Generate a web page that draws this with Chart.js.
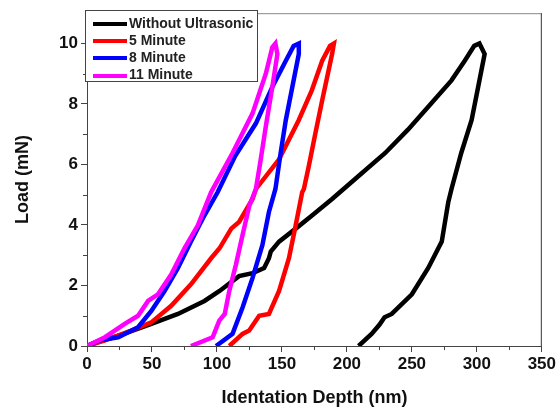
<!DOCTYPE html>
<html>
<head>
<meta charset="utf-8">
<script src="https://cdn.jsdelivr.net/npm/chart.js@4.4.1/dist/chart.umd.min.js"></script>
<style>
  html, body { margin: 0; padding: 0; background: #fff; }
  #wrap { position: relative; width: 558px; height: 410px; }
  #legend {
    position: absolute; left: 85px; top: 10px; width: 173px; height: 72px;
    border: 1px solid #444; background: #fff; box-sizing: border-box;
    font: bold 14px "Liberation Sans", Arial, sans-serif; color: #222;
  }
  .item { position: absolute; left: 7px; height: 17px; line-height: 17px; white-space: nowrap; }
  .item span.sw { display: inline-block; width: 34px; height: 4px; vertical-align: middle; margin-right: 2px; }
</style>
</head>
<body>
<div id="wrap">
  <canvas id="chart" width="558" height="410"></canvas>
  <div id="legend"></div>
</div>
<script>
// data (depth nm, load mN), loading then unloading
const seriesNames = ["Without Ultrasonic", "5 Minute", "8 Minute", "11 Minute"];
const seriesColors = ["#000000", "#ff0000", "#0000ff", "#ff00ff"];

const blackX = [0, 10, 25, 40, 49.5, 70, 90.4, 102, 117, 127.4, 136.3, 140, 141.4, 147.8, 160.6, 173.4, 188.6, 209, 229.5, 247, 265, 280.5, 290.7, 298, 302, 306, 301, 296, 288, 280.5, 278, 273, 262.6, 250, 234.5, 229, 225, 219, 209];
const blackY = [0, 0.15, 0.35, 0.58, 0.73, 1.06, 1.49, 1.82, 2.31, 2.41, 2.58, 2.9, 3.12, 3.45, 3.88, 4.32, 4.86, 5.62, 6.38, 7.15, 8.02, 8.78, 9.43, 9.92, 10.0, 9.65, 8.56, 7.47, 6.38, 5.19, 4.75, 3.45, 2.58, 1.71, 1.06, 0.95, 0.7, 0.4, 0];

const redX = [0, 13.8, 34, 49.5, 64.8, 80, 95.5, 102, 111, 117, 127.4, 130, 147.8, 163, 173, 181, 187, 190, 188.6, 181, 175.8, 170.7, 166.9, 165.6, 160.6, 155.4, 147.8, 140, 132.5, 124.8, 119.7, 109.5];
const redY = [0, 0.19, 0.51, 0.78, 1.33, 2.04, 2.9, 3.23, 3.88, 4.1, 4.86, 5.19, 6.17, 7.47, 8.45, 9.43, 9.92, 10.0, 9.65, 8.12, 7.04, 5.95, 5.19, 5.08, 3.99, 2.9, 1.82, 1.06, 1.0, 0.51, 0.4, 0];

const blueX = [0, 10, 24, 39.3, 49.5, 59.7, 70, 80, 90.4, 100.5, 114, 130, 142.6, 153, 159, 163, 163, 158, 153, 149, 145, 140, 135, 127.4, 119.7, 112, 99.3];
const blueY = [0, 0.19, 0.29, 0.62, 1.16, 1.82, 2.58, 3.45, 4.32, 5.08, 6.28, 7.36, 8.56, 9.43, 9.92, 10.0, 9.65, 8.56, 7.47, 6.38, 5.19, 4.43, 3.34, 2.25, 1.27, 0.4, 0];

const magentaX = [0, 13.8, 29, 39.3, 47, 54.6, 64.8, 75, 85.3, 95.5, 112, 127.4, 137.6, 142.6, 145, 146.5, 142.6, 137.6, 133.7, 130, 125, 119.7, 114.6, 109.5, 106, 101.8, 96.7, 80];
const magentaY = [0, 0.29, 0.73, 1.0, 1.49, 1.71, 2.36, 3.23, 3.99, 5.08, 6.38, 7.69, 9.0, 9.87, 10.0, 9.65, 8.56, 7.26, 6.17, 5.19, 4.65, 3.67, 2.69, 1.82, 1.06, 0.84, 0.29, 0];

const xTicks = [0, 50, 100, 150, 200, 250, 300, 350];
const yTicks = [0, 2, 4, 6, 8, 10];
const xMinor = [25, 75, 125, 175, 225, 275, 325];
const yMinor = [1, 3, 5, 7, 9];

const allX = [blackX, redX, blueX, magentaX];
const allY = [blackY, redY, blueY, magentaY];

/* -------------------------------
   LEGEND (html, inside plot box)
--------------------------------*/
const legend = document.getElementById("legend");
seriesNames.forEach((name, i) => {
  const d = document.createElement("div");
  d.className = "item";
  d.style.top = (3.5 + i * 17.3) + "px";
  d.innerHTML = `<span class="sw" style="background:${seriesColors[i]}"></span>${name}`;
  legend.appendChild(d);
});

/* -------------------------------
   FRAME + MINOR TICKS
--------------------------------*/
const framePlugin = {
  id: "frame",
  afterDraw(chart) {
    const { ctx, chartArea: a, scales } = chart;
    ctx.save();
    ctx.lineWidth = 1;
    ctx.strokeStyle = "#888";
    ctx.beginPath();
    ctx.moveTo(a.left, a.top + 0.5);
    ctx.lineTo(a.right, a.top + 0.5);
    ctx.stroke();
    ctx.strokeStyle = "#333";
    ctx.beginPath();
    ctx.moveTo(a.right - 0.5, a.top);
    ctx.lineTo(a.right - 0.5, a.bottom);
    ctx.stroke();
    // minor ticks
    ctx.strokeStyle = "#444";
    xMinor.forEach(v => {
      const px = Math.round(scales.x.getPixelForValue(v)) + 0.5;
      ctx.beginPath();
      ctx.moveTo(px, a.bottom);
      ctx.lineTo(px, a.bottom + 4);
      ctx.stroke();
    });
    yMinor.forEach(v => {
      const py = Math.round(scales.y.getPixelForValue(v)) + 0.5;
      ctx.beginPath();
      ctx.moveTo(a.left - 4, py);
      ctx.lineTo(a.left, py);
      ctx.stroke();
    });
    ctx.restore();
  }
};

const order = [4, 3, 2, 1];
const datasets = seriesNames.map((name, i) => ({
  label: name,
  data: allX[i].map((x, k) => ({ x: x, y: allY[i][k] })),
  borderColor: seriesColors[i],
  backgroundColor: seriesColors[i],
  borderWidth: 4.5,
  pointRadius: 0,
  tension: 0,
  order: order[i]
}));

const tickFont = { family: "'Liberation Sans', Arial, sans-serif", size: 17, weight: "bold" };
const titleFont = { family: "'Liberation Sans', Arial, sans-serif", size: 18, weight: "bold" };

new Chart(document.getElementById("chart"), {
  type: "line",
  data: { datasets: datasets },
  plugins: [framePlugin],
  options: {
    responsive: false,
    animation: false,
    layout: { padding: { top: 7, right: 14, left: 0, bottom: 0 } },
    plugins: { legend: { display: false }, tooltip: { enabled: false } },
    scales: {
      x: {
        type: "linear",
        min: 0, max: 350,
        afterBuildTicks: s => { s.ticks = xTicks.map(v => ({ value: v })); },
        afterFit: s => { s.height = 64; },
        border: { color: "#444", width: 1 },
        grid: { drawOnChartArea: false, tickLength: 6, color: "#444" },
        ticks: { color: "#111", font: tickFont, padding: 2 },
        title: { display: true, text: "Identation Depth (nm)", color: "#111", font: titleFont, padding: { top: 0, bottom: 1 } }
      },
      y: {
        type: "linear",
        min: 0, max: 11,
        afterBuildTicks: s => { s.ticks = yTicks.map(v => ({ value: v })); },
        afterFit: s => { s.width = 87; },
        border: { color: "#444", width: 1 },
        grid: { drawOnChartArea: false, tickLength: 6, color: "#444" },
        ticks: { color: "#111", font: tickFont, padding: 3 },
        title: { display: true, text: "Load (mN)", color: "#111", font: titleFont, padding: { top: 12, bottom: 0 } }
      }
    }
  }
});
</script>
</body>
</html>
